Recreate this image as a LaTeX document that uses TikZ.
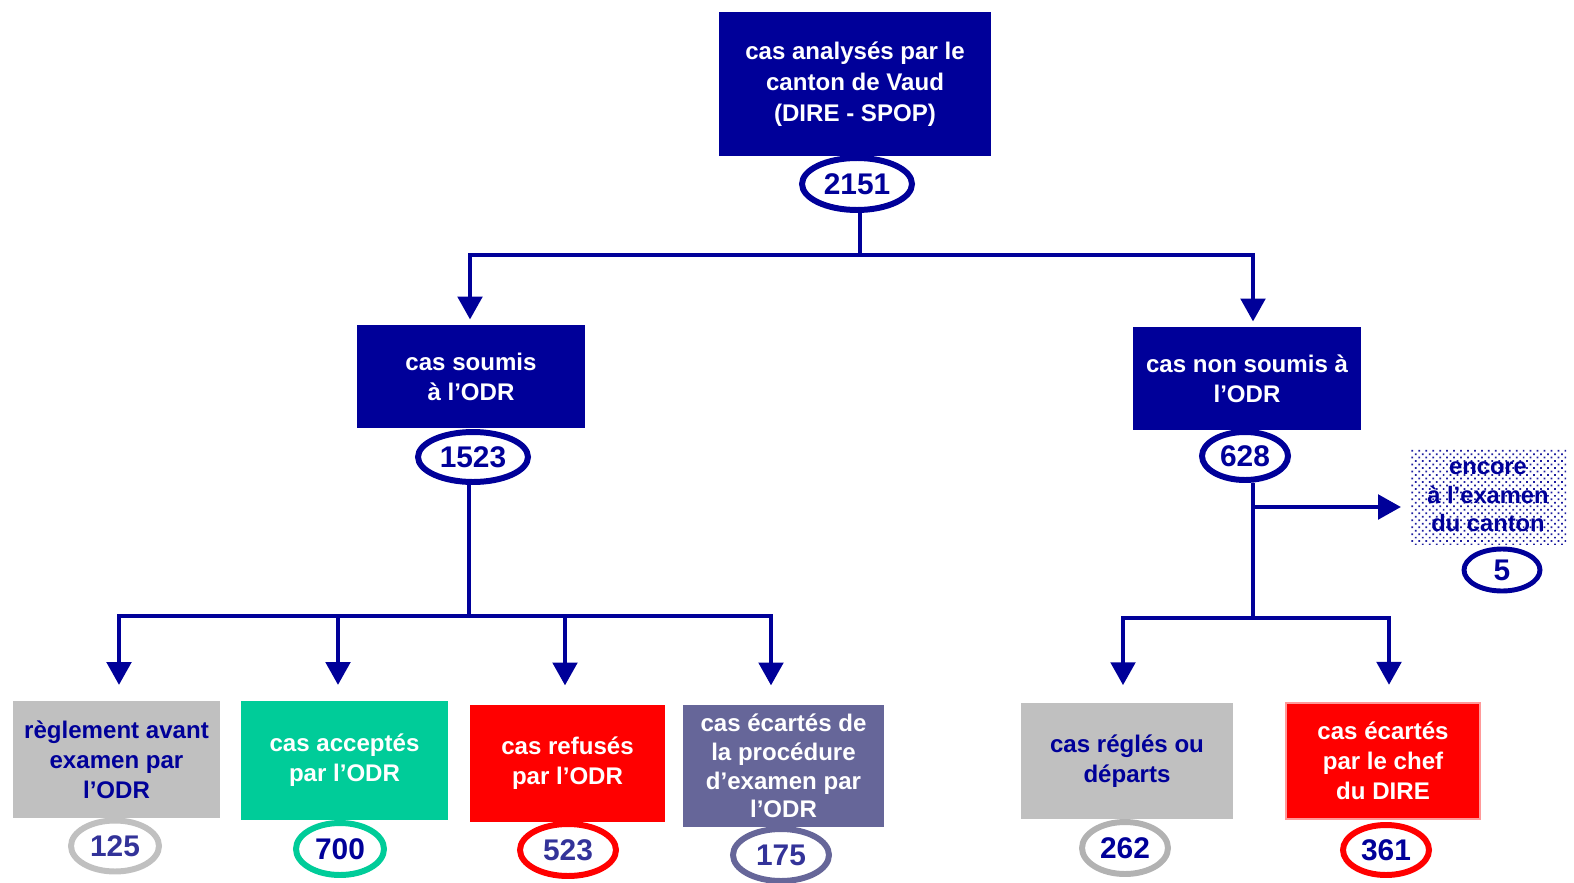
\documentclass[tikz,border=0pt]{standalone}
\usepackage{fontspec}
\setmainfont{Liberation Sans}
\usetikzlibrary{arrows.meta,shapes.geometric,patterns.meta}

\definecolor{navy}{RGB}{0,0,153}
\definecolor{navytxt}{RGB}{51,51,153}
\definecolor{boxgray}{RGB}{192,192,192}
\definecolor{ringgray}{RGB}{178,178,178}
\definecolor{teal}{RGB}{0,204,153}
\definecolor{slate}{RGB}{102,102,153}
\definecolor{pinkline}{RGB}{255,153,153}
\definecolor{dotblue}{RGB}{30,30,160}

\tikzset{
    box/.style={rectangle, inner sep=0pt, align=center, text=white,
        font=\fontsize{13.7}{17}\selectfont\bfseries},
    num/.style={ellipse, draw=navy, fill=white, line width=3.4pt, inner sep=0pt,
        text=navy, font=\fontsize{17}{19}\selectfont\bfseries},
    conn/.style={navy, line width=2pt},
    arr/.style={conn, -{Triangle[width=14pt,length=13pt]}}
}

\begin{document}
\begin{tikzpicture}[x=0.02cm, y=-0.02cm]
        \useasboundingbox (0,0) rectangle (1574,882);

        % top level
        \node[box, fill=navy, minimum width=5.44cm, minimum height=2.88cm,
            font=\fontsize{13.7}{17.6}\selectfont\bfseries] (canton) at (855,84)
            {cas analysés par le\\canton de Vaud\\(DIRE - SPOP)};
        \node[num, minimum width=2.2cm, minimum height=1.04cm] (n2151) at (857,184) {2151};

        % second level
        \node[box, fill=navy, minimum width=4.56cm, minimum height=2.06cm] (soumis) at (471,376.5)
            {cas soumis\\à l’ODR};
        \node[num, minimum width=2.2cm, minimum height=1.0cm] (n1523) at (473,457) {1523};
        \node[box, fill=navy, minimum width=4.56cm, minimum height=2.06cm] (nonsoumis) at (1247,378.5)
            {cas non soumis à\\l’ODR};
        \node[num, minimum width=1.72cm, minimum height=0.96cm] (n628) at (1245,456) {628};

        \node[box, text=navy, pattern={Dots[angle=45,distance=2.8pt,radius=0.7pt]}, pattern color=dotblue,
            minimum width=3.12cm, minimum height=1.92cm, font=\fontsize{13.5}{16.2}\selectfont\bfseries] (encore) at (1488,497)
            {encore\\à l’examen\\du canton};
        \node[num, line width=2.8pt, minimum width=1.52cm, minimum height=0.84cm] (n5) at (1502,570) {5};

        % third level
        \node[box, fill=boxgray, text=navy, minimum width=4.14cm, minimum height=2.34cm] (reglement) at (116.5,759.5)
            {règlement avant\\examen par\\l’ODR};
        \node[box, fill=teal, minimum width=4.14cm, minimum height=2.38cm] (accepte) at (344.5,760.5)
            {cas acceptés\\par l’ODR};
        \node[box, fill=red, minimum width=3.9cm, minimum height=2.34cm] (refuse) at (567.5,763.5)
            {cas refusés\\par l’ODR};
        \node[box, fill=slate, minimum width=4.02cm, minimum height=2.44cm,
            font=\fontsize{13.7}{16.4}\selectfont\bfseries] (ecarte) at (783.5,766)
            {cas écartés de\\la procédure\\d’examen par\\l’ODR};
        \node[box, fill=boxgray, text=navy, minimum width=4.24cm, minimum height=2.32cm] (regles) at (1127,761)
            {cas réglés ou\\départs};
        \node[box, fill=red, draw=pinkline, line width=0.8pt, minimum width=3.88cm, minimum height=2.32cm] (chef) at (1383,761)
            {cas écartés\\par le chef\\du DIRE};

        \node[num, draw=boxgray, text=navytxt, minimum width=1.76cm, minimum height=1.02cm] (n125) at (115,846) {125};
        \node[num, draw=teal, minimum width=1.76cm, minimum height=1.04cm] (n700) at (340,849) {700};
        \node[num, draw=red, text=navytxt, minimum width=1.92cm, minimum height=1.04cm] (n523) at (568,850) {523};
        \node[num, draw=slate, text=navytxt, minimum width=1.92cm, minimum height=1.04cm] (n175) at (781,855) {175};
        \node[num, draw=ringgray, minimum width=1.72cm, minimum height=1.04cm] (n262) at (1125,848) {262};
        \node[num, draw=red, minimum width=1.72cm, minimum height=1.0cm] (n361) at (1386,850) {361};

        % connectors
        \coordinate (j1) at (860,255);
        \coordinate (j2) at (469,616);
        \coordinate (j3) at (1253,618);
        \coordinate (j4) at (1253,507);

        \draw[conn] (n2151.south -| j1) -- (j1);
        \draw[arr, shorten >=3] (j1) -| (470,0 |- soumis.north);
        \draw[arr, shorten >=3] (j1) -| (1253,0 |- nonsoumis.north);

        \draw[conn] (n1523.south -| j2) -- (j2);
        \draw[arr, shorten >=9] (j2) -| (119,0 |- reglement.north);
        \draw[arr, shorten >=9] (j2) -| (338,0 |- accepte.north);
        \draw[arr, shorten >=11] (j2) -| (565,0 |- refuse.north);
        \draw[arr, shorten >=11] (j2) -| (771,0 |- ecarte.north);

        \draw[conn] (n628.south -| j3) -- (j3);
        \draw[arr, shorten >=5] (j4) -- (j4 -| encore.west);
        \draw[arr, shorten >=10] (j3) -| (1123,0 |- regles.north);
        \draw[arr, shorten >=10] (j3) -| (1389,0 |- chef.north);
    \end{tikzpicture}
\end{document}
